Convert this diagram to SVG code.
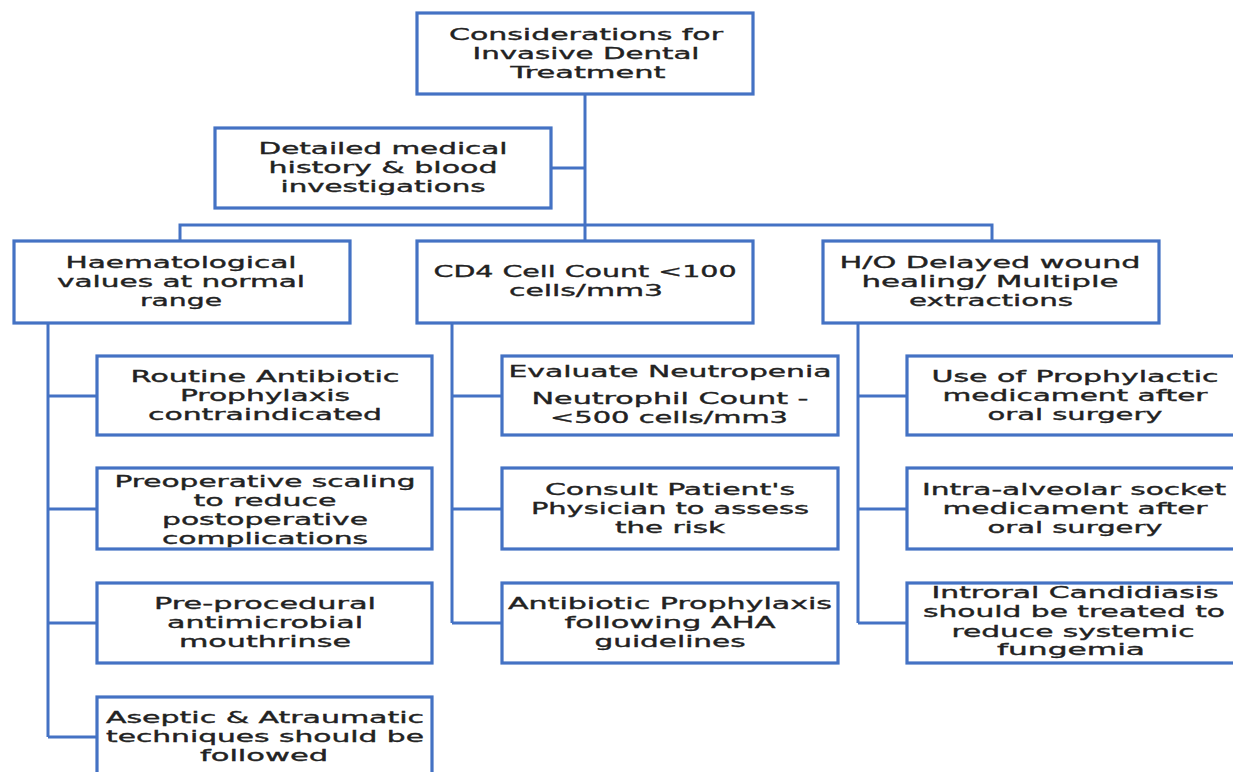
<svg xmlns="http://www.w3.org/2000/svg" width="1233" height="772" viewBox="0 0 1233 772">
<style>
.box{fill:#fff;stroke:#4472c4;stroke-width:3.2}
.c{fill:none;stroke:#4472c4;stroke-width:3}
.t{font-family:"DejaVu Sans",Verdana,sans-serif;font-size:16px;fill:#222;stroke:#222;stroke-width:0.35;text-anchor:middle}
</style>
<rect width="1233" height="772" fill="#fff"/>
<g id="connectors">
<path class="c" d="M585 94V226" stroke-width="4.5"/>
<path class="c" d="M551 168H585"/>
<path class="c" d="M180 241V225H992V241M585 225V241"/>
<path class="c" d="M48 323V737M48 396H97M48 509H97M48 623H97M48 737H97" stroke-width="3.5"/>
<path class="c" d="M452 323V623M452 396H502M452 509H502M452 623H502" stroke-width="3.5"/>
<path class="c" d="M858 323V623M858 396H907M858 509H907M858 623H907" stroke-width="3.5"/>
</g>
<g id="n-top"><rect class="box" x="417" y="13" width="336" height="81"/>
<text class="t" x="586" y="40" textLength="274" lengthAdjust="spacingAndGlyphs">Considerations for</text>
<text class="t" x="586" y="59" textLength="227" lengthAdjust="spacingAndGlyphs">Invasive Dental</text>
<text class="t" x="588" y="78" textLength="155" lengthAdjust="spacingAndGlyphs">Treatment</text></g>
<g id="n-detailed"><rect class="box" x="215" y="128" width="336" height="80"/>
<text class="t" x="383" y="154" textLength="249" lengthAdjust="spacingAndGlyphs">Detailed medical</text>
<text class="t" x="383" y="173" textLength="229" lengthAdjust="spacingAndGlyphs">history &amp; blood</text>
<text class="t" x="383" y="192" textLength="205" lengthAdjust="spacingAndGlyphs">investigations</text></g>
<g id="n-haem"><rect class="box" x="14" y="241" width="336" height="82"/>
<text class="t" x="181" y="268" textLength="231" lengthAdjust="spacingAndGlyphs">Haematological</text>
<text class="t" x="181" y="287" textLength="248" lengthAdjust="spacingAndGlyphs">values at normal</text>
<text class="t" x="181" y="306" textLength="82" lengthAdjust="spacingAndGlyphs">range</text></g>
<g id="n-cd4"><rect class="box" x="417" y="241" width="336" height="82"/>
<text class="t" x="585" y="277" textLength="303" lengthAdjust="spacingAndGlyphs">CD4 Cell Count &lt;100</text>
<text class="t" x="586" y="296" textLength="154" lengthAdjust="spacingAndGlyphs">cells/mm3</text></g>
<g id="n-ho"><rect class="box" x="823" y="241" width="336" height="82"/>
<text class="t" x="990" y="268" textLength="301" lengthAdjust="spacingAndGlyphs">H/O Delayed wound</text>
<text class="t" x="990" y="287" textLength="257" lengthAdjust="spacingAndGlyphs">healing/ Multiple</text>
<text class="t" x="991" y="306" textLength="164" lengthAdjust="spacingAndGlyphs">extractions</text></g>
<g id="n-l1"><rect class="box" x="97" y="356" width="335" height="79"/>
<text class="t" x="265" y="382" textLength="269" lengthAdjust="spacingAndGlyphs">Routine Antibiotic</text>
<text class="t" x="265" y="401" textLength="170" lengthAdjust="spacingAndGlyphs">Prophylaxis</text>
<text class="t" x="265" y="420" textLength="234" lengthAdjust="spacingAndGlyphs">contraindicated</text></g>
<g id="n-l2"><rect class="box" x="97" y="468" width="335" height="81"/>
<text class="t" x="265" y="487" textLength="301" lengthAdjust="spacingAndGlyphs">Preoperative scaling</text>
<text class="t" x="265" y="506" textLength="143" lengthAdjust="spacingAndGlyphs">to reduce</text>
<text class="t" x="265" y="525" textLength="206" lengthAdjust="spacingAndGlyphs">postoperative</text>
<text class="t" x="265" y="544" textLength="206" lengthAdjust="spacingAndGlyphs">complications</text></g>
<g id="n-l3"><rect class="box" x="97" y="583" width="335" height="80"/>
<text class="t" x="265" y="609" textLength="222" lengthAdjust="spacingAndGlyphs">Pre-procedural</text>
<text class="t" x="265" y="628" textLength="196" lengthAdjust="spacingAndGlyphs">antimicrobial</text>
<text class="t" x="265" y="647" textLength="172" lengthAdjust="spacingAndGlyphs">mouthrinse</text></g>
<g id="n-l4"><rect class="box" x="97" y="697" width="335" height="90"/>
<text class="t" x="265" y="723" textLength="318" lengthAdjust="spacingAndGlyphs">Aseptic &amp; Atraumatic</text>
<text class="t" x="265" y="742" textLength="318" lengthAdjust="spacingAndGlyphs">techniques should be</text>
<text class="t" x="264" y="761" textLength="128" lengthAdjust="spacingAndGlyphs">followed</text></g>
<g id="n-m1"><rect class="box" x="502" y="356" width="336" height="79"/>
<text class="t" x="670" y="377" textLength="323" lengthAdjust="spacingAndGlyphs">Evaluate Neutropenia</text>
<text class="t" x="670" y="404" textLength="277" lengthAdjust="spacingAndGlyphs">Neutrophil Count -</text>
<text class="t" x="669" y="423" textLength="238" lengthAdjust="spacingAndGlyphs">&lt;500 cells/mm3</text></g>
<g id="n-m2"><rect class="box" x="502" y="468" width="336" height="81"/>
<text class="t" x="670" y="495" textLength="250" lengthAdjust="spacingAndGlyphs">Consult Patient's</text>
<text class="t" x="670" y="514" textLength="278" lengthAdjust="spacingAndGlyphs">Physician to assess</text>
<text class="t" x="670" y="533" textLength="110" lengthAdjust="spacingAndGlyphs">the risk</text></g>
<g id="n-m3"><rect class="box" x="502" y="583" width="336" height="80"/>
<text class="t" x="670" y="609" textLength="324" lengthAdjust="spacingAndGlyphs">Antibiotic Prophylaxis</text>
<text class="t" x="670" y="628" textLength="211" lengthAdjust="spacingAndGlyphs">following AHA</text>
<text class="t" x="670" y="647" textLength="151" lengthAdjust="spacingAndGlyphs">guidelines</text></g>
<g id="n-r1"><rect class="box" x="907" y="356" width="336" height="79"/>
<text class="t" x="1075" y="382" textLength="287" lengthAdjust="spacingAndGlyphs">Use of Prophylactic</text>
<text class="t" x="1075" y="401" textLength="265" lengthAdjust="spacingAndGlyphs">medicament after</text>
<text class="t" x="1075" y="420" textLength="175" lengthAdjust="spacingAndGlyphs">oral surgery</text></g>
<g id="n-r2"><rect class="box" x="907" y="468" width="336" height="81"/>
<text class="t" x="1074" y="495" textLength="304" lengthAdjust="spacingAndGlyphs">Intra-alveolar socket</text>
<text class="t" x="1075" y="514" textLength="265" lengthAdjust="spacingAndGlyphs">medicament after</text>
<text class="t" x="1075" y="533" textLength="175" lengthAdjust="spacingAndGlyphs">oral surgery</text></g>
<g id="n-r3"><rect class="box" x="907" y="583" width="336" height="80"/>
<text class="t" x="1075" y="598" textLength="287" lengthAdjust="spacingAndGlyphs">Introral Candidiasis</text>
<text class="t" x="1074" y="617" textLength="302" lengthAdjust="spacingAndGlyphs">should be treated to</text>
<text class="t" x="1073" y="637" textLength="243" lengthAdjust="spacingAndGlyphs">reduce systemic</text>
<text class="t" x="1071" y="655" textLength="148" lengthAdjust="spacingAndGlyphs">fungemia</text></g>
</svg>
